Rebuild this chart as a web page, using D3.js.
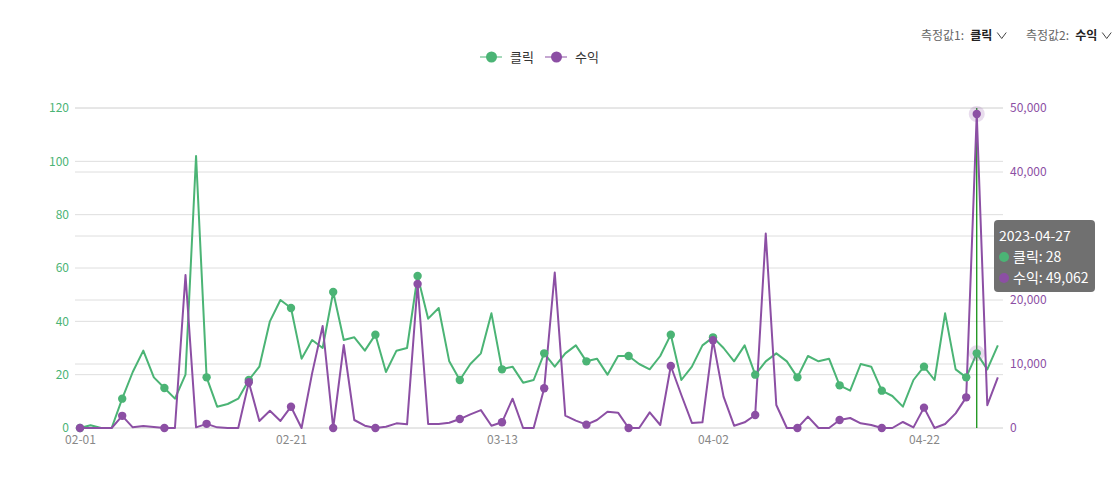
<!DOCTYPE html>
<html><head><meta charset="utf-8">
<script src="https://cdn.jsdelivr.net/npm/d3@7"></script>
<style>
html,body{margin:0;padding:0;background:#fff;}
svg{display:block;font-family:"Noto Sans CJK KR","Noto Sans",sans-serif;}
</style></head>
<body><svg id="chart" width="1119" height="485"></svg>
<script>
const startDate = "2023-02-01";
const endDate = "2023-04-29";
const seriesNames = ["클릭", "수익"];
const clicks = [0,1,0,0,11,21,29,19,15,11,20,102,19,8,9,11,18,23,40,48,45,26,33,30,51,33,34,29,35,21,29,30,57,41,45,25,18,24,28,43,22,23,17,18,28,23,28,31,25,26,20,27,27,24,22,27,35,18,23,31,34,30,25,31,20,25,28,25,19,27,25,26,16,14,24,23,14,12,8,18,23,18,43,22,19,28,22,31];
const revenue = [0,0,0,0,1900,100,300,150,0,0,23900,100,650,100,0,0,7150,1100,2700,1100,3330,0,8540,15940,0,12970,1250,360,0,200,730,570,22500,625,625,830,1400,2140,2800,360,890,4580,0,0,6200,24300,1930,1150,520,1250,2550,2400,0,0,2450,470,9690,5160,800,890,13700,4900,360,890,2030,30400,3590,0,0,1770,0,0,1250,1560,730,470,0,0,940,100,3180,0,625,2290,4790,49062,3560,7900];
const leftTicks = [0,20,40,60,80,100,120];
const rightTicks = [0,10000,20000,30000,40000,50000];
const xTickLabels = ["02-01","02-21","03-13","04-02","04-22"];
const hoverIndex = 85;

const green = "#4bb475", purple = "#8c4fa4";
const dates = d3.timeDay.range(new Date(startDate+"T00:00:00"), d3.timeDay.offset(new Date(endDate+"T00:00:00"),1)).map(d3.timeFormat("%Y-%m-%d"));
const svg = d3.select("#chart");

const x = d3.scalePoint().domain(dates).range([80, 997.85]);
const yL = d3.scaleLinear().domain([0,120]).range([428,108]);
const yR = d3.scaleLinear().domain([0,50000]).range([428,108]);

// grid
const grid = svg.append("g");
leftTicks.forEach(t => grid.append("line").attr("x1",75).attr("x2",1003).attr("y1",yL(t)).attr("y2",yL(t)).attr("stroke","#dedede"));
rightTicks.forEach(t => grid.append("line").attr("x1",75).attr("x2",1003).attr("y1",yR(t)).attr("y2",yR(t)).attr("stroke","#dedede"));

// axes
const axL = svg.append("g").attr("transform","translate(75,0)")
  .call(d3.axisLeft(yL).tickValues(leftTicks).tickSize(0).tickPadding(6));
axL.select(".domain").remove();
axL.selectAll("text").attr("fill",green).style("font-size","12px").style("font-family","'Noto Sans CJK KR','Noto Sans',sans-serif");

const axR = svg.append("g").attr("transform","translate(1003,0)")
  .call(d3.axisRight(yR).tickValues(rightTicks).tickFormat(d3.format(",")).tickSize(0).tickPadding(7));
axR.select(".domain").remove();
axR.selectAll("text").attr("fill",purple).style("font-size","12px").style("font-family","'Noto Sans CJK KR','Noto Sans',sans-serif");

const tickDates = xTickLabels.map(l => dates.find(d => d.slice(5) === l));
const axX = svg.append("g").attr("transform","translate(0,428)")
  .call(d3.axisBottom(x).tickValues(tickDates).tickFormat(d => d.slice(5)).tickSize(0).tickPadding(7));
axX.select(".domain").remove();
axX.selectAll("text").attr("fill","#888").style("font-size","12px").style("font-family","'Noto Sans CJK KR','Noto Sans',sans-serif");

// hover line
svg.append("line").attr("x1",x(dates[hoverIndex])).attr("x2",x(dates[hoverIndex]))
  .attr("y1",108).attr("y2",428).attr("stroke","#008800").attr("stroke-width",1.2);

// lines
const lineG = d3.line().x((d,i)=>x(dates[i])).y(d=>yL(d));
const lineR = d3.line().x((d,i)=>x(dates[i])).y(d=>yR(d));
svg.append("path").datum(clicks).attr("d",lineG).attr("fill","none").attr("stroke",green).attr("stroke-width",2).attr("stroke-linejoin","round");
svg.append("path").datum(revenue).attr("d",lineR).attr("fill","none").attr("stroke",purple).attr("stroke-width",2).attr("stroke-linejoin","round");

// halos
svg.append("circle").attr("cx",x(dates[hoverIndex])).attr("cy",yL(clicks[hoverIndex])).attr("r",8).attr("fill",purple).attr("fill-opacity",0.2);
svg.append("circle").attr("cx",x(dates[hoverIndex])).attr("cy",yR(revenue[hoverIndex])).attr("r",8).attr("fill",purple).attr("fill-opacity",0.2);

// dots
const idx = d3.range(dates.length).filter(i => i % 4 === 0 || i === hoverIndex);
svg.append("g").selectAll("circle").data(idx).join("circle")
  .attr("cx",i=>x(dates[i])).attr("cy",i=>yL(clicks[i])).attr("r",4.2).attr("fill",green);
svg.append("g").selectAll("circle").data(idx).join("circle")
  .attr("cx",i=>x(dates[i])).attr("cy",i=>yR(revenue[i])).attr("r",4.2).attr("fill",purple);

// legend
const lg = svg.append("g").style("font-size","13px");
[[green,480,seriesNames[0]],[purple,545,seriesNames[1]]].forEach(([c,x0,t])=>{
  lg.append("line").attr("x1",x0).attr("x2",x0+22).attr("y1",57).attr("y2",57).attr("stroke",c).attr("stroke-opacity",0.5).attr("stroke-width",2);
  lg.append("circle").attr("cx",x0+11.5).attr("cy",57).attr("r",5.5).attr("fill",c);
  lg.append("text").attr("x",x0+30).attr("y",61.5).attr("fill","#333").text(t);
});

// top-right selectors
const sel = svg.append("g").style("font-size","12px");
function selector(x0,label,val){
  const t = sel.append("text").attr("x",x0).attr("y",39.5);
  t.append("tspan").attr("fill","#666").text(label);
  t.append("tspan").attr("fill","#222").attr("font-weight","bold").attr("dx",6).text(val);
  const b = t.node().getBBox();
  const e = b.x + b.width;
  sel.append("path").attr("d",`M${e+5},32.5 L${e+9.5},38.5 L${e+14},32.5`).attr("fill","none").attr("stroke","#444").attr("stroke-width",1);
}
selector(921,"측정값1:",seriesNames[0]);
selector(1026,"측정값2:",seriesNames[1]);

// tooltip
const tip = svg.append("g").attr("transform","translate(994,220)");
tip.append("rect").attr("width",101).attr("height",72).attr("rx",4).attr("fill","#6b6b6b").attr("fill-opacity",0.97);
tip.append("text").attr("x",5).attr("y",21).attr("fill","#fff").style("font-size","14px").text(dates[hoverIndex]);
[[green,seriesNames[0],d3.format(",")(clicks[hoverIndex])],[purple,seriesNames[1],d3.format(",")(revenue[hoverIndex])]].forEach(([c,n,v],k)=>{
  tip.append("circle").attr("cx",10).attr("cy",37+k*21).attr("r",5).attr("fill",c);
  tip.append("text").attr("x",19).attr("y",42+k*21).attr("fill","#fff").style("font-size","14px").text(`${n}: ${v}`);
});
</script></body></html>
